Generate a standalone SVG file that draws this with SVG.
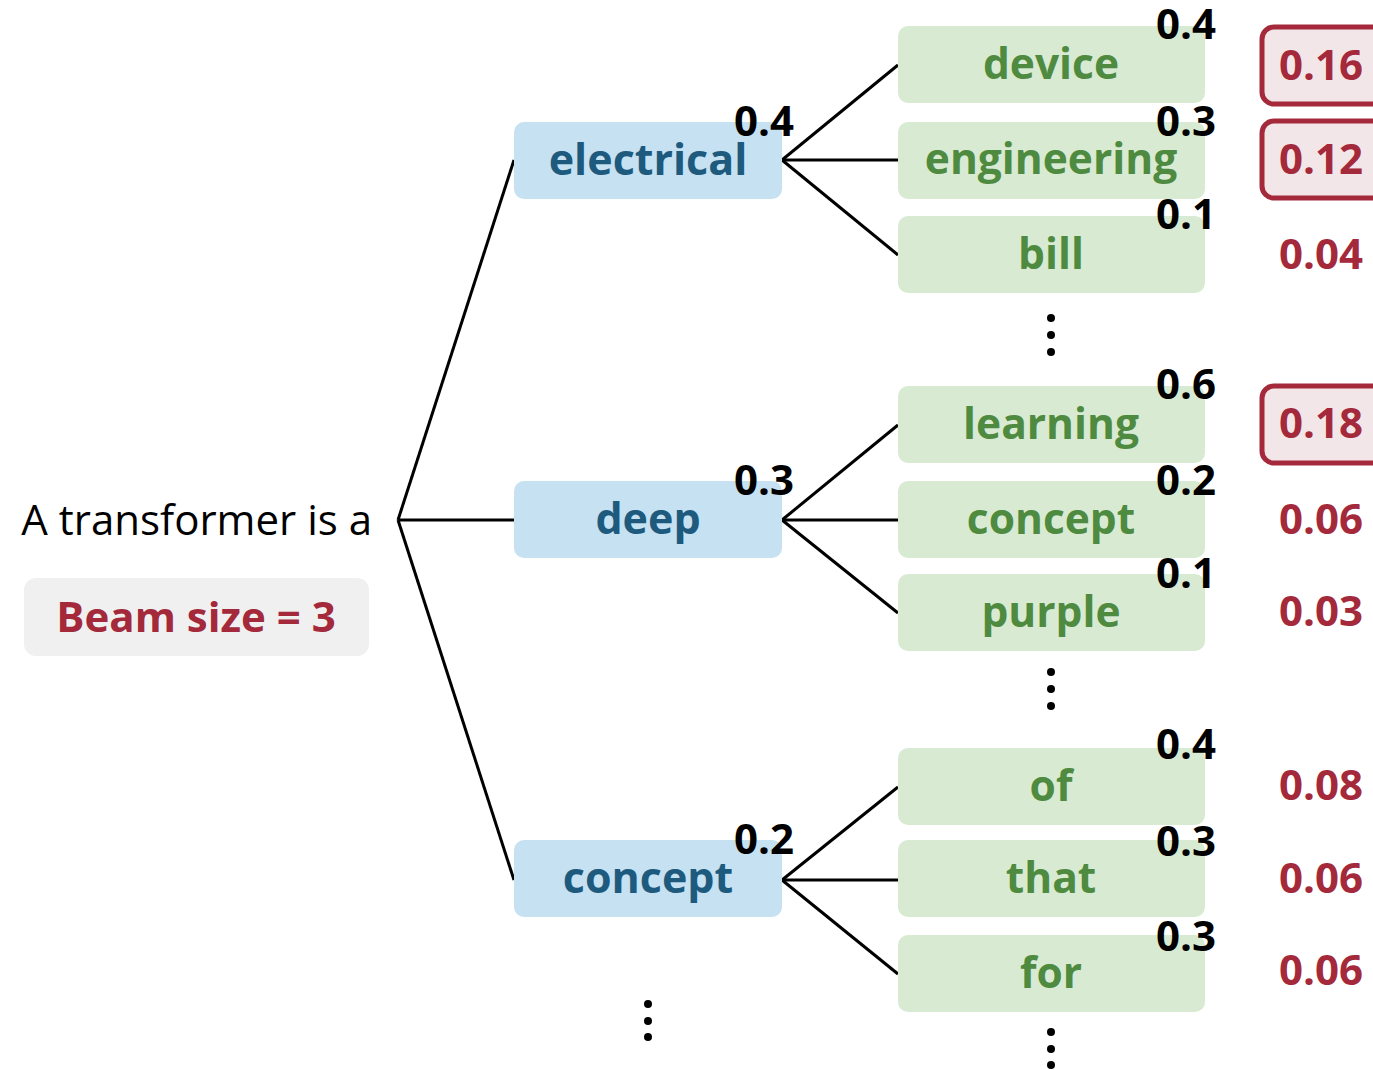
<svg xmlns="http://www.w3.org/2000/svg" width="1373" height="1070" viewBox="0 0 1373 1070">
  <style>
    text { font-family: "Open Sans", "Noto Sans", "DejaVu Sans", sans-serif; }
    .l1 rect { fill: #c5e1f2; }
    .l1 text { fill: #1d5a7e; font-weight: 700; font-size: 43px; text-anchor: middle; }
    .l2 rect { fill: #d9ead3; }
    .l2 text { fill: #4e8a3f; font-weight: 700; font-size: 42.5px; text-anchor: middle; }
    .p { fill: #000; font-weight: 700; font-size: 42px; text-anchor: middle; }
    .s { fill: #a3293b; font-weight: 700; font-size: 42px; text-anchor: middle; }
    .sel { fill: #f3e6e8; stroke: #a3293b; stroke-width: 5; }
    .dot { fill: #000; }
    #edges line { stroke: #000; stroke-width: 3; }
  </style>

  <!-- tree edges -->
  <g id="edges">
    <line x1="398" y1="520" x2="514" y2="160"/>
    <line x1="398" y1="520" x2="514" y2="520"/>
    <line x1="398" y1="520" x2="514" y2="880"/>
    <line x1="782" y1="160" x2="898" y2="65"/>
    <line x1="782" y1="160" x2="898" y2="160"/>
    <line x1="782" y1="160" x2="898" y2="255"/>
    <line x1="782" y1="520" x2="898" y2="425"/>
    <line x1="782" y1="520" x2="898" y2="520"/>
    <line x1="782" y1="520" x2="898" y2="613"/>
    <line x1="782" y1="880" x2="898" y2="787"/>
    <line x1="782" y1="880" x2="898" y2="880"/>
    <line x1="782" y1="880" x2="898" y2="974"/>
  </g>

  <!-- prompt and beam size -->
  <g id="prompt">
    <text x="372" y="535" font-size="42" text-anchor="end" fill="#000">A transformer is a</text>
  </g>
  <g id="beam">
    <rect x="24" y="578" width="345" height="78" rx="12" fill="#f0f0f0"/>
    <text x="196" y="632" class="s">Beam size = 3</text>
  </g>

  <!-- first-step tokens -->
  <g id="n-electrical" class="l1">
    <rect x="514" y="122" width="268" height="77" rx="10"/>
    <text x="648" y="175">electrical</text>
  </g>
  <g id="n-deep" class="l1">
    <rect x="514" y="481" width="268" height="77" rx="10"/>
    <text x="648" y="534">deep</text>
  </g>
  <g id="n-concept" class="l1">
    <rect x="514" y="840" width="268" height="77" rx="10"/>
    <text x="648" y="893">concept</text>
  </g>
  <text class="p" x="764" y="136">0.4</text>
  <text class="p" x="764" y="495">0.3</text>
  <text class="p" x="764" y="854">0.2</text>

  <!-- second-step tokens -->
  <g id="n-device" class="l2">
    <rect x="898" y="26" width="307" height="77" rx="10"/>
    <text x="1051" y="79">device</text>
  </g>
  <g id="n-engineering" class="l2">
    <rect x="898" y="122" width="307" height="77" rx="10"/>
    <text x="1051" y="174">engineering</text>
  </g>
  <g id="n-bill" class="l2">
    <rect x="898" y="216" width="307" height="77" rx="10"/>
    <text x="1051" y="269">bill</text>
  </g>
  <g id="n-learning" class="l2">
    <rect x="898" y="386" width="307" height="77" rx="10"/>
    <text x="1051" y="439">learning</text>
  </g>
  <g id="n-concept2" class="l2">
    <rect x="898" y="481" width="307" height="77" rx="10"/>
    <text x="1051" y="534">concept</text>
  </g>
  <g id="n-purple" class="l2">
    <rect x="898" y="574" width="307" height="77" rx="10"/>
    <text x="1051" y="627">purple</text>
  </g>
  <g id="n-of" class="l2">
    <rect x="898" y="748" width="307" height="77" rx="10"/>
    <text x="1051" y="801">of</text>
  </g>
  <g id="n-that" class="l2">
    <rect x="898" y="840" width="307" height="77" rx="10"/>
    <text x="1051" y="893">that</text>
  </g>
  <g id="n-for" class="l2">
    <rect x="898" y="935" width="307" height="77" rx="10"/>
    <text x="1051" y="988">for</text>
  </g>

  <!-- conditional probabilities -->
  <text class="p" x="1186" y="39">0.4</text>
  <text class="p" x="1186" y="136">0.3</text>
  <text class="p" x="1186" y="229">0.1</text>
  <text class="p" x="1186" y="399">0.6</text>
  <text class="p" x="1186" y="495">0.2</text>
  <text class="p" x="1186" y="588">0.1</text>
  <text class="p" x="1186" y="759">0.4</text>
  <text class="p" x="1186" y="856">0.3</text>
  <text class="p" x="1186" y="951">0.3</text>

  <!-- joint scores; kept beams are boxed -->
  <g id="scores">
    <rect class="sel" x="1262" y="27" width="124" height="77" rx="12"/>
    <rect class="sel" x="1262" y="121" width="124" height="77" rx="12"/>
    <rect class="sel" x="1262" y="386" width="124" height="77" rx="12"/>
    <text class="s" x="1321" y="80">0.16</text>
    <text class="s" x="1321" y="174">0.12</text>
    <text class="s" x="1321" y="269">0.04</text>
    <text class="s" x="1321" y="438">0.18</text>
    <text class="s" x="1321" y="534">0.06</text>
    <text class="s" x="1321" y="626">0.03</text>
    <text class="s" x="1321" y="800">0.08</text>
    <text class="s" x="1321" y="893">0.06</text>
    <text class="s" x="1321" y="985">0.06</text>
  </g>

  <!-- ellipses -->
  <g id="ellipses" class="dot">
    <circle cx="1051" cy="318" r="4"/><circle cx="1051" cy="335" r="4"/><circle cx="1051" cy="352" r="4"/>
    <circle cx="1051" cy="672" r="4"/><circle cx="1051" cy="689" r="4"/><circle cx="1051" cy="706" r="4"/>
    <circle cx="648" cy="1004" r="4"/><circle cx="648" cy="1021" r="4"/><circle cx="648" cy="1037" r="4"/>
    <circle cx="1051" cy="1032" r="4"/><circle cx="1051" cy="1049" r="4"/><circle cx="1051" cy="1065" r="4"/>
  </g>
</svg>
